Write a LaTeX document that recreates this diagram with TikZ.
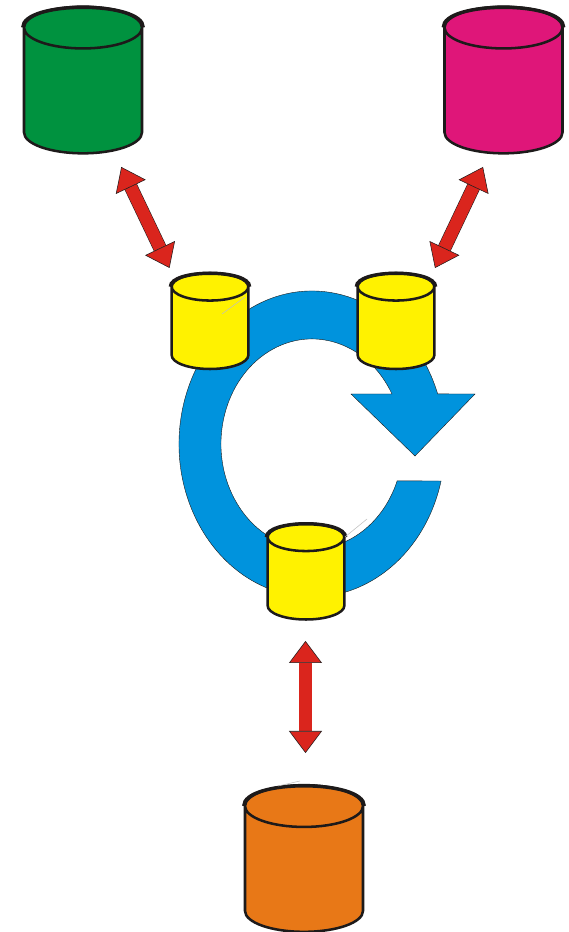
\documentclass[tikz,border=0pt]{standalone}
\usepackage{tikz}
\usetikzlibrary{shapes.geometric}
\usetikzlibrary{arrows.meta}
\usetikzlibrary{calc}
\definecolor{dbgreen}{HTML}{00923f}
\definecolor{dbpink}{HTML}{df1679}
\definecolor{dborange}{HTML}{e87817}
\definecolor{dbyellow}{HTML}{fff200}
\definecolor{ringblue}{HTML}{0093dd}
\definecolor{linkred}{HTML}{da251d}
\definecolor{rimblack}{HTML}{1d1a1a}

\begin{document}
\begin{tikzpicture}[x=.75pt,y=.75pt,
db/.style = {shape=cylinder, shape border rotate=90, draw=rimblack,
  line width=1.9pt, cylinder uses custom fill, anchor=shape center},
bigdb/.style = {db, minimum width=88.5pt, minimum height=110pt, shape aspect=4.7,
  cylinder body fill=#1, cylinder end fill=#1},
smalldb/.style = {db, minimum width=57.5pt, minimum height=72pt, shape aspect=3.1,
  cylinder body fill=dbyellow, cylinder end fill=dbyellow},
rim/.style = {draw=rimblack, line width=2.6pt},
link/.style = {{Triangle[length=16.5pt,width=24.75pt,line width=.4pt,fill=linkred]}-{Triangle[length=16.5pt,width=24.75pt,line width=.4pt,fill=linkred]},
  draw=rimblack, line width=.4pt, double=linkred, double distance=9.4pt},
stray/.style = {draw=black!25, line width=.4pt}
]
\useasboundingbox (0,0) rectangle (568,932);

\fill[ringblue, draw=rimblack, line width=.3pt]
  (312,488) ++(-14:133 and 153) arc (-14:-340.9:133 and 153)
  -- (475,538) -- (415,476) -- (351,538)
  -- (392,538) arc (-331.6:-20.6:91 and 105) -- cycle;

\node [bigdb=dbgreen] (green) at (83,852) {};
\node [bigdb=dbpink] (pink) at (503.5,852) {};
\node [bigdb=dborange] (orange) at (304,73.5) {};
\node [smalldb] (left) at (210,611) {};
\node [smalldb] (right) at (396,611) {};
\node [smalldb] (bottom) at (306,360.5) {};

\foreach \db/\lift in {green/27, pink/27, orange/27, left/18, right/18, bottom/18}
  \draw [rim] (\db.after top) .. controls +(0,\lift) and ($(\db.before top)+(0,\lift)$) .. (\db.before top);

\coordinate (greentip) at (121.3,765);
\coordinate (lefttip) at (169.5,664);
\coordinate (pinktip) at (483,765);
\coordinate (righttip) at (435,664);
\coordinate (bottomtip) at (305.5,291);
\coordinate (orangetip) at (305.5,179);

\draw [link] (greentip) -- (lefttip);
\draw [link] (pinktip) -- (righttip);
\draw [link] (bottomtip) -- (orangetip);

\draw [stray] (222,618) -- (245,635);
\draw [stray] (345,395) -- (367,413);
\draw [stray] (278,146) -- (300,151);
\end{tikzpicture}
\end{document}
